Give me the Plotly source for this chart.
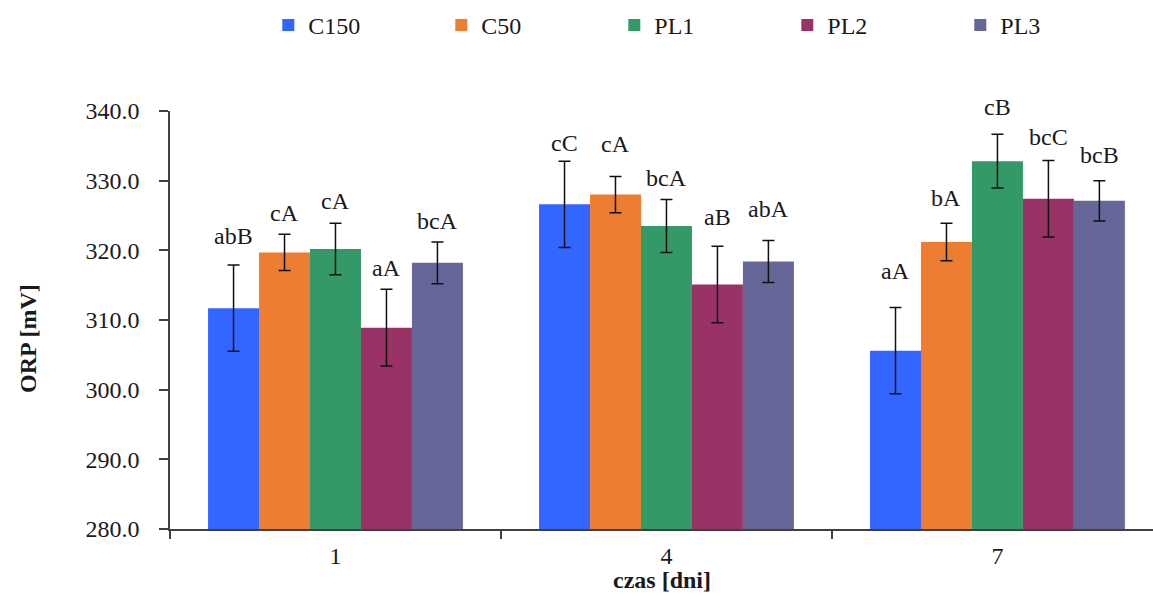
import plotly.graph_objects as go

days = ["1", "4", "7"]
series_names = ["C150", "C50", "PL1", "PL2", "PL3"]
c150 = [311.7, 326.6, 305.6]
c50 = [319.7, 328.0, 321.2]
pl1 = [320.2, 323.5, 332.8]
pl2 = [308.9, 315.1, 327.4]
pl3 = [318.2, 318.4, 327.1]
c150_err = [6.2, 6.2, 6.2]
c50_err = [2.6, 2.6, 2.7]
pl1_err = [3.7, 3.8, 3.85]
pl2_err = [5.5, 5.5, 5.5]
pl3_err = [3.0, 3.0, 2.9]
c150_lbl = ["abB", "cC", "aA"]
c50_lbl = ["cA", "cA", "bA"]
pl1_lbl = ["cA", "bcA", "cB"]
pl2_lbl = ["aA", "aB", "bcC"]
pl3_lbl = ["bcA", "abA", "bcB"]

values = [c150, c50, pl1, pl2, pl3]
errors = [c150_err, c50_err, pl1_err, pl2_err, pl3_err]
labels = [c150_lbl, c50_lbl, pl1_lbl, pl2_lbl, pl3_lbl]
colors = ["#3366FF", "#ED7D31", "#339966", "#993366", "#666699"]
# pixel gap between error bar top and label baseline (styling)
label_gap = [[20, 9, 27], [12, 23, 16], [13, 12, 18], [12, 20, 14], [12, 23, 17]]

FONT = "Liberation Serif, Times New Roman, serif"
TXT = "#1a1a1a"
AX = "#404040"
FS = 24
bargap = 0.23
bw = (1 - bargap) / len(series_names)

fig = go.Figure()
for i, name in enumerate(series_names):
    fig.add_trace(go.Bar(
        x=days, y=values[i], name=name,
        marker=dict(color=colors[i], line=dict(width=0)),
        error_y=dict(type="data", array=errors[i], visible=True,
                     color="#111111", thickness=1.5, width=6),
    ))
    for j, d in enumerate(days):
        fig.add_annotation(
            x=j + (i - 2) * bw, y=values[i][j] + errors[i][j],
            xref="x", yref="y", text=labels[i][j], showarrow=False,
            yanchor="bottom", yshift=label_gap[i][j] - 6,
            font=dict(family=FONT, size=FS, color=TXT),
        )

fig.add_annotation(x=-0.1445, y=0.457, xref="paper", yref="paper",
                   text="<b>ORP [mV]</b>", textangle=-90, showarrow=False,
                   xanchor="center", yanchor="middle",
                   font=dict(family=FONT, size=FS, color=TXT))
fig.add_annotation(x=0.5, y=-0.122, xref="paper", yref="paper",
                   text="<b>czas [dni]</b>", showarrow=False,
                   xanchor="center", yanchor="middle",
                   font=dict(family=FONT, size=FS, color=TXT))

fig.update_layout(
    width=1153, height=595,
    margin=dict(l=170, r=0, t=111, b=66),
    paper_bgcolor="white", plot_bgcolor="white",
    barmode="group", bargap=bargap, bargroupgap=0,
    font=dict(family=FONT, size=FS, color=TXT),
    showlegend=True,
    legend=dict(orientation="h", x=0.1, xanchor="left", y=1.205, yanchor="middle",
                font=dict(family=FONT, size=FS, color=TXT),
                entrywidth=128, itemwidth=30, traceorder="normal"),
    xaxis=dict(type="category", range=[-0.5, 2.47], showline=True,
               linecolor=AX, linewidth=1.5, ticks="outside", tickson="boundaries",
               ticklen=8, tickcolor=AX, tickwidth=1.5, showgrid=False,
               ticklabelstandoff=4, tickfont=dict(family=FONT, size=FS, color=TXT)),
    yaxis=dict(range=[280, 340], dtick=10, tick0=280, tickformat=".1f",
               showline=True, linecolor=AX, linewidth=1.5, ticks="outside",
               ticklen=9, tickcolor=AX, tickwidth=1.5, showgrid=False,
               zeroline=False, ticklabelstandoff=15,
               tickfont=dict(family=FONT, size=FS, color=TXT)),
    yaxis2=dict(range=[280, 340], dtick=10, tick0=280, overlaying="y", side="left",
                anchor="x", showline=False, ticks="inside", ticklen=9,
                tickcolor=AX, tickwidth=1.5, showticklabels=False,
                showgrid=False, zeroline=False),
)

fig.write_html("out.html", config={"displayModeBar": False},
               post_script="document.body.style.margin='0px';document.body.style.overflow='hidden';")
